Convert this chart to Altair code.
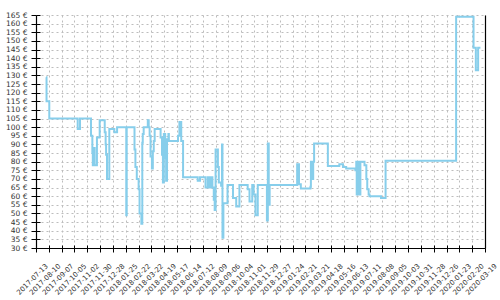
import altair as alt
import pandas as pd

# ---- data ----
dates = [
    "2017-08-04", "2017-08-05", "2017-08-11", "2017-10-12", "2017-10-17",
    "2017-11-10", "2017-11-13", "2017-11-14", "2017-11-16", "2017-11-18",
    "2017-11-23", "2017-11-29", "2017-12-10", "2017-12-12", "2017-12-13",
    "2017-12-15", "2017-12-20", "2017-12-31", "2018-01-06", "2018-01-26",
    "2018-01-27", "2018-02-13", "2018-02-15", "2018-02-18", "2018-02-22",
    "2018-02-24", "2018-02-28", "2018-03-02", "2018-03-03", "2018-03-05",
    "2018-03-14", "2018-03-16", "2018-03-18", "2018-03-20", "2018-03-23",
    "2018-03-25", "2018-03-27", "2018-03-29", "2018-04-11", "2018-04-14",
    "2018-04-16", "2018-04-18", "2018-04-21", "2018-04-23", "2018-04-25",
    "2018-04-28", "2018-04-29", "2018-05-19", "2018-05-22", "2018-05-26",
    "2018-05-30", "2018-07-01", "2018-07-06", "2018-07-18", "2018-07-23",
    "2018-07-27", "2018-07-31", "2018-08-02", "2018-08-05", "2018-08-07",
    "2018-08-09", "2018-08-14", "2018-08-16", "2018-08-21", "2018-08-23",
    "2018-08-24", "2018-08-26", "2018-09-04", "2018-09-16", "2018-09-23",
    "2018-09-30", "2018-10-18", "2018-10-22", "2018-10-28", "2018-10-31",
    "2018-11-04", "2018-11-09", "2018-11-29", "2018-12-01", "2018-12-03",
    "2018-12-05", "2019-02-03", "2019-02-07", "2019-02-11", "2019-03-04",
    "2019-03-05", "2019-03-08", "2019-03-10", "2019-03-12", "2019-04-11",
    "2019-05-06", "2019-05-14", "2019-05-21", "2019-06-10", "2019-06-12",
    "2019-06-13", "2019-06-15", "2019-06-17", "2019-06-21", "2019-06-30",
    "2019-07-04", "2019-07-06", "2019-07-09", "2019-07-11", "2019-08-05",
    "2019-08-15", "2020-01-16", "2020-02-23", "2020-02-28", "2020-03-04",
    "2020-03-09",
]
prices = [
    129, 115, 105, 99, 105,
    95, 85, 78, 88, 78,
    94, 104, 97, 90, 84,
    70, 99, 97, 100, 49,
    100, 87, 77, 70, 64,
    50, 44, 91, 96, 100,
    104, 100, 95, 83, 76,
    86, 92, 99, 94, 84,
    68, 96, 82, 69, 93,
    96, 92, 95, 103, 92,
    71, 69, 71, 65, 71,
    65, 71, 65, 58, 52,
    87, 77, 68, 66, 90,
    36, 56, 66.5, 59, 54,
    66.5, 64, 57, 66.5, 61,
    49, 66.5, 46, 90.5, 55,
    66.5, 78.5, 67, 64.5, 65.5,
    80, 70, 80, 90.5, 77.5,
    78.5, 77, 76, 75, 80,
    61, 80, 61, 80, 78,
    70, 64, 61, 60, 59,
    80.5, 164, 146, 133, 146,
    146,
]

x_tick_labels = [
    "2017-07-13", "2017-08-10", "2017-09-07", "2017-10-05", "2017-11-02",
    "2017-11-30", "2017-12-28", "2018-01-25", "2018-02-22", "2018-03-22",
    "2018-04-19", "2018-05-17", "2018-06-14", "2018-07-12", "2018-08-09",
    "2018-09-06", "2018-10-04", "2018-11-01", "2018-11-29", "2018-12-27",
    "2019-01-24", "2019-02-21", "2019-03-21", "2019-04-18", "2019-05-16",
    "2019-06-13", "2019-07-11", "2019-08-08", "2019-09-05", "2019-10-03",
    "2019-10-31", "2019-11-28", "2019-12-26", "2020-01-23", "2020-02-20",
    "2020-03-19",
]
y_tick_values = [30, 35, 40, 45, 50, 55, 60, 65, 70, 75, 80, 85, 90, 95,
                 100, 105, 110, 115, 120, 125, 130, 135, 140, 145, 150, 155,
                 160, 165]

# ---- build ----
df = pd.DataFrame({"date": dates, "price": prices})


def ms(s):
    return int(pd.Timestamp(s, tz="UTC").value // 10**6)


x_ticks_ms = [ms(s) for s in x_tick_labels]
x_domain = [x_ticks_ms[0], x_ticks_ms[-1]]
y_domain = [y_tick_values[0], y_tick_values[-1]]

W, H = 449, 233
LINE = "#87CEEB"
GRID = "#bdbdbd"
FONT = "DejaVu Sans"

xscale = alt.Scale(type="utc", domain=x_domain, nice=False)
yscale = alt.Scale(domain=y_domain, nice=False, zero=False)

base = alt.Chart(df)

main = base.mark_line(interpolate="step-after", color=LINE, strokeWidth=2).encode(
    x=alt.X("date:T", scale=xscale, axis=alt.Axis(
        values=x_ticks_ms, title=None,
        labelExpr="utcFormat(datum.value, '%Y-%m-%d')",
        labelAngle=-45, labelAlign="center", labelBaseline="middle",
        labelPadding=27, labelOffset=-4, labelFlush=False, labelOverlap=False,
        labelFont=FONT, labelFontSize=7, labelColor="#333333",
        tickSize=4, tickColor="black", domainColor="black", domainWidth=1.2,
        grid=True, gridColor=GRID, gridDash=[2, 3], gridWidth=1)),
    y=alt.Y("price:Q", scale=yscale, axis=alt.Axis(
        values=y_tick_values, title=None,
        labelExpr="datum.value + ' €'",
        labelPadding=4, labelFlush=False, labelOverlap=False,
        labelFont=FONT, labelFontSize=7.5, labelColor="#333333",
        tickSize=5, tickColor="black", domainColor="black", domainWidth=1.2,
        grid=True, gridColor=GRID, gridDash=[2, 3], gridWidth=1)),
)

inner_ticks = base.mark_line(opacity=0).encode(
    x=alt.X("date:T", scale=xscale, axis=alt.Axis(
        orient="top", offset=-H, values=x_ticks_ms, title=None,
        labels=False, domain=False, grid=False,
        tickSize=3, tickColor="black")),
    y=alt.Y("price:Q", scale=yscale, axis=alt.Axis(
        orient="right", offset=-W, values=y_tick_values, title=None,
        labels=False, domain=False, grid=False,
        tickSize=4, tickColor="black")),
)

right_border = base.mark_line(opacity=0).encode(
    x=alt.X("date:T", scale=xscale, axis=None),
    y=alt.Y("price:Q", scale=yscale, axis=alt.Axis(
        orient="right", title=None, labels=False, ticks=False, grid=False,
        domain=True, domainColor="black", domainWidth=1.2)),
)

chart = alt.layer(main, inner_ticks, right_border).resolve_scale(
    x="independent", y="independent"
).properties(
    width=W, height=H,
    autosize=alt.AutoSizeParams(type="none"),
    padding={"left": 36, "top": 15, "right": 15, "bottom": 52},
).configure_view(stroke=None)

chart.save("out.html", embed_options={"renderer": "svg", "actions": False})
